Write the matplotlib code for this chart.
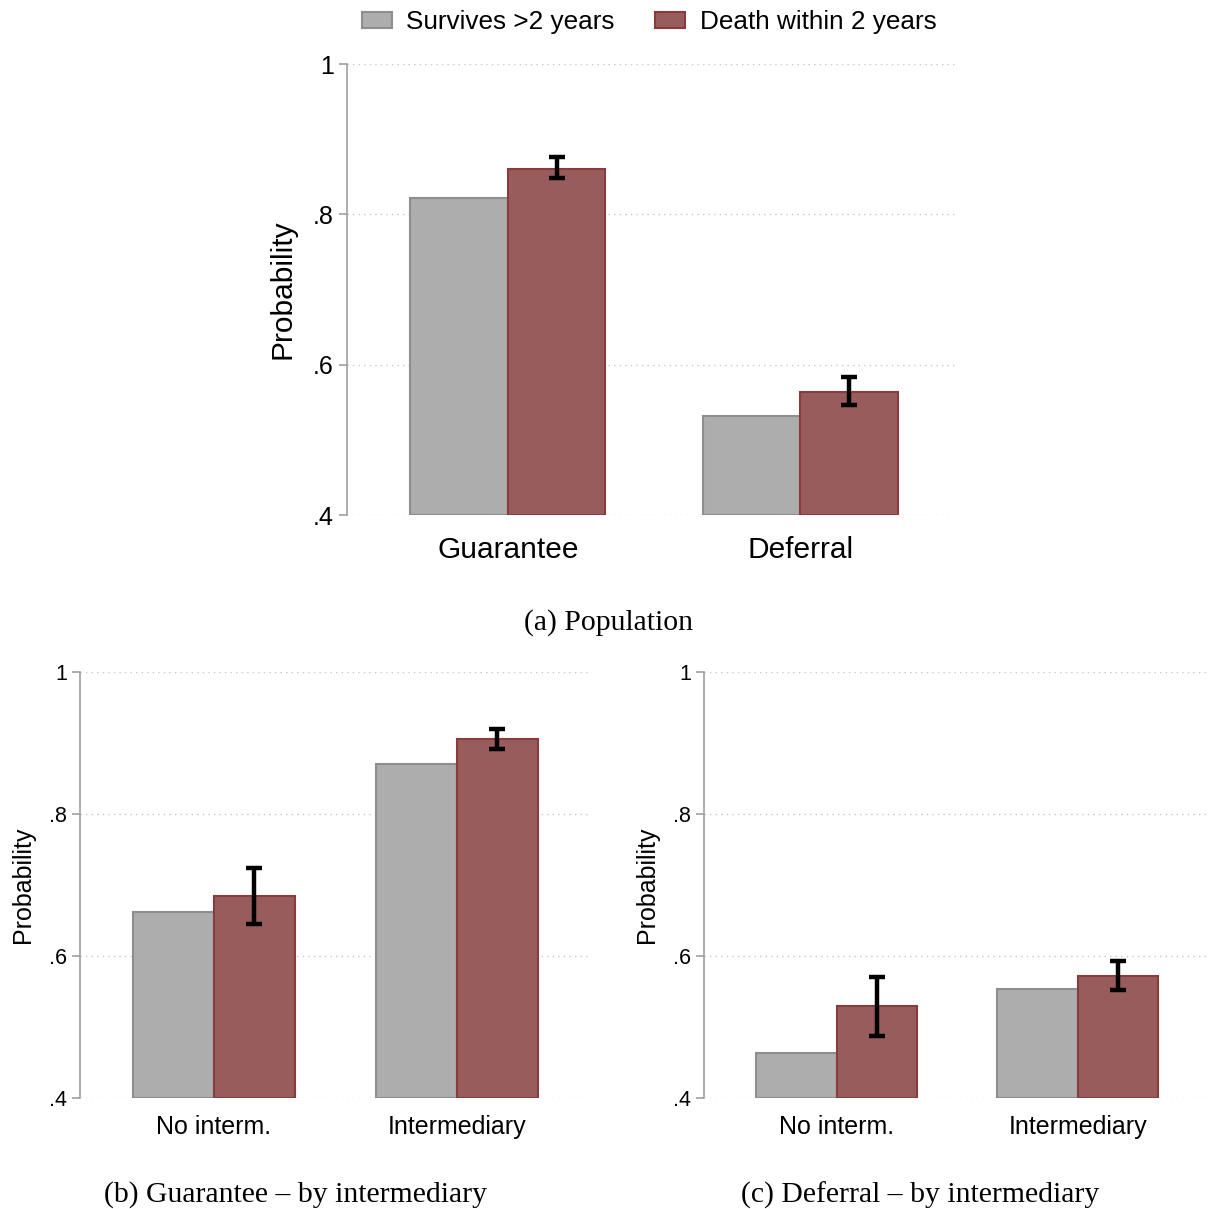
import numpy as np
import matplotlib.pyplot as plt
from matplotlib.patches import Patch

# Panel (a): population
pop_groups = ['Guarantee', 'Deferral']
pop_survives = [0.822, 0.532]
pop_death = [0.860, 0.564]
pop_death_lo = [0.848, 0.546]
pop_death_hi = [0.876, 0.584]

# Panel (b): guarantee by intermediary
int_groups = ['No interm.', 'Intermediary']
guar_survives = [0.662, 0.870]
guar_death = [0.684, 0.905]
guar_death_lo = [0.645, 0.892]
guar_death_hi = [0.724, 0.920]

# Panel (c): deferral by intermediary
def_survives = [0.463, 0.553]
def_death = [0.529, 0.572]
def_death_lo = [0.487, 0.552]
def_death_hi = [0.571, 0.593]

yticks = [0.4, 0.6, 0.8, 1.0]
ytick_labels = ['.4', '.6', '.8', '1']

GRAY = '#adadad'
GRAY_EDGE = '#8e8e8e'
RED = '#995c5c'
RED_EDGE = '#8a3b3b'

plt.rcParams['font.family'] = ['Liberation Sans', 'DejaVu Sans']

fig = plt.figure(figsize=(12.1, 12.09), dpi=100)


def panel(rect, groups, surv, death, lo, hi, tick_fs, cat_fs, lab_fs, lab_pad, cat_pad):
    ax = fig.add_axes(rect)
    x = np.arange(len(groups))
    w = 0.333
    ax.bar(x - w / 2, np.array(surv) - 0.4, w, bottom=0.4, color=GRAY,
           edgecolor=GRAY_EDGE, linewidth=1.5, zorder=2)
    ax.bar(x + w / 2, np.array(death) - 0.4, w, bottom=0.4, color=RED,
           edgecolor=RED_EDGE, linewidth=1.5, zorder=2)
    mid = (np.array(lo) + np.array(hi)) / 2
    err = (np.array(hi) - np.array(lo)) / 2
    eb = ax.errorbar(x + w / 2, mid, yerr=err, fmt='none', ecolor='black',
                     elinewidth=3.2, capsize=5, capthick=3.2, zorder=3)
    for c in eb[1]:
        c.set_marker('_')
        c.set_markersize(11)
    ax.set_xlim(-0.55, 1.54)
    ax.set_ylim(0.4, 1.0)
    ax.set_yticks(yticks)
    ax.set_yticklabels(ytick_labels, fontsize=tick_fs)
    ax.set_xticks(x)
    ax.set_xticklabels(groups, fontsize=cat_fs)
    ax.tick_params(axis='x', length=0, pad=cat_pad)
    ax.tick_params(axis='y', length=6, width=1.2, color='#a0a0a0', pad=3.5)
    for s in ['top', 'right', 'bottom']:
        ax.spines[s].set_visible(False)
    ax.spines['left'].set_color('#a0a0a0')
    ax.spines['left'].set_linewidth(1.2)
    ax.yaxis.grid(True, linestyle=(0, (1, 3)), color='#c8c8c8', linewidth=1, zorder=0)
    ax.set_axisbelow(True)
    ax.set_ylabel('Probability', fontsize=lab_fs, labelpad=lab_pad)
    return ax


ax_a = panel([0.2868, 0.574, 0.505, 0.373], pop_groups, pop_survives, pop_death,
             pop_death_lo, pop_death_hi, 18, 21.5, 21.5, 12, 15)
ax_b = panel([0.0661, 0.0918, 0.4198, 0.3524], int_groups, guar_survives, guar_death,
             guar_death_lo, guar_death_hi, 15.5, 18, 18, 10, 12)
ax_c = panel([0.5818, 0.0918, 0.4165, 0.3524], int_groups, def_survives, def_death,
             def_death_lo, def_death_hi, 15.5, 18, 18, 10, 12)

handles = [Patch(facecolor=GRAY, edgecolor=GRAY_EDGE, linewidth=1.5, label='Survives >2 years'),
           Patch(facecolor=RED, edgecolor=RED_EDGE, linewidth=1.5, label='Death within 2 years')]
fig.legend(handles=handles, loc='center', bbox_to_anchor=(649 / 1210, 1 - 22 / 1209),
           ncol=2, frameon=False, fontsize=18.8, handlelength=1.15, handleheight=0.55,
           columnspacing=1.55, handletextpad=0.55)

cap_font = dict(family=['Liberation Serif', 'DejaVu Serif'], fontsize=21.4,
                ha='center', va='center')
fig.text(608 / 1210, 1 - 623 / 1209, '(a) Population', **cap_font)
fig.text(296 / 1210, 1 - 1195 / 1209, '(b) Guarantee – by intermediary', **cap_font)
fig.text(920 / 1210, 1 - 1195 / 1209, '(c) Deferral – by intermediary', **cap_font)

fig.savefig('out.png', dpi=100)
